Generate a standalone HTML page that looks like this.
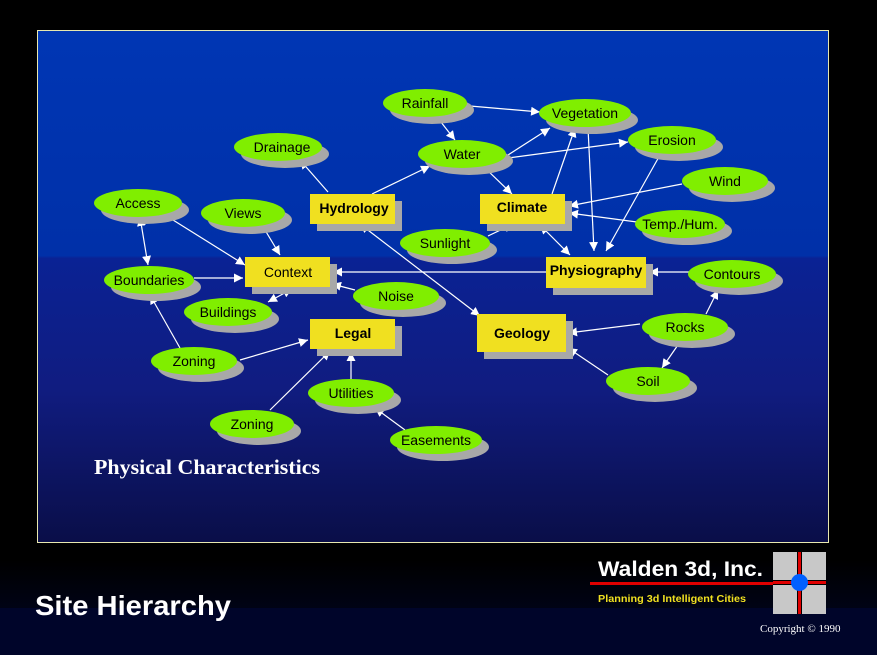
<!DOCTYPE html>
<html><head><meta charset="utf-8"><style>
html,body{margin:0;padding:0;background:#000;width:877px;height:655px;overflow:hidden}
svg{display:block}
</style></head><body>
<svg width="877" height="655" viewBox="0 0 877 655" xmlns="http://www.w3.org/2000/svg">
<defs>
<linearGradient id="bg" x1="0" y1="0" x2="0" y2="1">
<stop offset="0" stop-color="#0036b4"/>
<stop offset="0.44" stop-color="#0030a8"/>
<stop offset="0.445" stop-color="#0a2294"/>
<stop offset="0.7" stop-color="#101c80"/>
<stop offset="1" stop-color="#0a0e48"/>
</linearGradient>
<linearGradient id="bot" x1="0" y1="0" x2="0" y2="1">
<stop offset="0" stop-color="#000"/>
<stop offset="1" stop-color="#00062a"/>
</linearGradient>
<marker id="ah" viewBox="0 0 10 10" refX="10" refY="5" markerWidth="9" markerHeight="9" markerUnits="userSpaceOnUse" orient="auto-start-reverse">
<path d="M0,0 L10,5 L0,10 z" fill="#fff"/>
</marker>
</defs>
<rect x="0" y="0" width="877" height="655" fill="#000"/>
<rect x="0" y="560" width="877" height="95" fill="url(#bot)"/>
<rect x="0" y="608" width="877" height="47" fill="#00052a"/>
<rect x="37.5" y="30.5" width="791" height="512" fill="url(#bg)" stroke="#e8e8b0" stroke-width="1"/>

<g stroke="#fff" stroke-width="1.2" fill="none" marker-end="url(#ah)">
<line x1="470" y1="106" x2="540" y2="112"/>
<line x1="437" y1="117" x2="455" y2="140"/>
<line x1="508" y1="155" x2="550" y2="128"/>
<line x1="508" y1="158" x2="628" y2="142"/>
<line x1="485" y1="168" x2="512" y2="194"/>
<line x1="372" y1="194" x2="430" y2="166"/>
<line x1="328" y1="192" x2="300" y2="160"/>
<line x1="552" y1="194" x2="575" y2="128"/>
<line x1="588" y1="128" x2="594" y2="251"/>
<line x1="660" y1="155" x2="606" y2="251"/>
<line x1="682" y1="184" x2="569" y2="206"/>
<line x1="637" y1="222" x2="569" y2="213"/>
<line x1="488" y1="236" x2="513" y2="224"/>
<line x1="540" y1="225" x2="570" y2="255" marker-start="url(#ah)"/>
<line x1="546" y1="272" x2="333" y2="272"/>
<line x1="690" y1="272" x2="649" y2="272"/>
<line x1="360" y1="224" x2="480" y2="316" marker-start="url(#ah)"/>
<line x1="640" y1="324" x2="568" y2="333"/>
<line x1="706" y1="314" x2="718" y2="290"/>
<line x1="680" y1="342" x2="662" y2="368"/>
<line x1="608" y1="375" x2="568" y2="348"/>
<line x1="165" y1="215" x2="245" y2="265"/>
<line x1="140" y1="217" x2="148" y2="265" marker-start="url(#ah)"/>
<line x1="262" y1="225" x2="280" y2="255"/>
<line x1="194" y1="278" x2="243" y2="278"/>
<line x1="268" y1="302" x2="292" y2="289" marker-start="url(#ah)"/>
<line x1="355" y1="290" x2="332" y2="284"/>
<line x1="180" y1="348" x2="150" y2="295"/>
<line x1="240" y1="360" x2="308" y2="340"/>
<line x1="270" y1="410" x2="330" y2="351"/>
<line x1="351" y1="380" x2="351" y2="352"/>
<line x1="405" y1="430" x2="375" y2="408"/>
</g>

<g font-family="Liberation Sans, sans-serif" font-size="14" text-anchor="middle">
<g><ellipse cx="432" cy="110" rx="42" ry="14" fill="#a8a8a8"/><ellipse cx="425" cy="103" rx="42" ry="14" fill="#80ee00"/><text x="425" y="108">Rainfall</text></g>
<g><ellipse cx="592" cy="120" rx="46" ry="14" fill="#a8a8a8"/><ellipse cx="585" cy="113" rx="46" ry="14" fill="#80ee00"/><text x="585" y="118">Vegetation</text></g>
<g><ellipse cx="285" cy="154" rx="44" ry="14" fill="#a8a8a8"/><ellipse cx="278" cy="147" rx="44" ry="14" fill="#80ee00"/><text x="282" y="152">Drainage</text></g>
<g><ellipse cx="469" cy="161" rx="44" ry="14" fill="#a8a8a8"/><ellipse cx="462" cy="154" rx="44" ry="14" fill="#80ee00"/><text x="462" y="159">Water</text></g>
<g><ellipse cx="679" cy="147" rx="44" ry="14" fill="#a8a8a8"/><ellipse cx="672" cy="140" rx="44" ry="14" fill="#80ee00"/><text x="672" y="145">Erosion</text></g>
<g><ellipse cx="732" cy="188" rx="43" ry="14" fill="#a8a8a8"/><ellipse cx="725" cy="181" rx="43" ry="14" fill="#80ee00"/><text x="725" y="186">Wind</text></g>
<g><ellipse cx="145" cy="210" rx="44" ry="14" fill="#a8a8a8"/><ellipse cx="138" cy="203" rx="44" ry="14" fill="#80ee00"/><text x="138" y="208">Access</text></g>
<g><ellipse cx="250" cy="220" rx="42" ry="14" fill="#a8a8a8"/><ellipse cx="243" cy="213" rx="42" ry="14" fill="#80ee00"/><text x="243" y="218">Views</text></g>
<g><ellipse cx="687" cy="231" rx="45" ry="14" fill="#a8a8a8"/><ellipse cx="680" cy="224" rx="45" ry="14" fill="#80ee00"/><text x="680" y="229">Temp./Hum.</text></g>
<g><ellipse cx="452" cy="250" rx="45" ry="14" fill="#a8a8a8"/><ellipse cx="445" cy="243" rx="45" ry="14" fill="#80ee00"/><text x="445" y="248">Sunlight</text></g>
<g><ellipse cx="156" cy="287" rx="45" ry="14" fill="#a8a8a8"/><ellipse cx="149" cy="280" rx="45" ry="14" fill="#80ee00"/><text x="149" y="285">Boundaries</text></g>
<g><ellipse cx="739" cy="281" rx="44" ry="14" fill="#a8a8a8"/><ellipse cx="732" cy="274" rx="44" ry="14" fill="#80ee00"/><text x="732" y="279">Contours</text></g>
<g><ellipse cx="403" cy="303" rx="43" ry="14" fill="#a8a8a8"/><ellipse cx="396" cy="296" rx="43" ry="14" fill="#80ee00"/><text x="396" y="301">Noise</text></g>
<g><ellipse cx="235" cy="319" rx="44" ry="14" fill="#a8a8a8"/><ellipse cx="228" cy="312" rx="44" ry="14" fill="#80ee00"/><text x="228" y="317">Buildings</text></g>
<g><ellipse cx="692" cy="334" rx="43" ry="14" fill="#a8a8a8"/><ellipse cx="685" cy="327" rx="43" ry="14" fill="#80ee00"/><text x="685" y="332">Rocks</text></g>
<g><ellipse cx="201" cy="368" rx="43" ry="14" fill="#a8a8a8"/><ellipse cx="194" cy="361" rx="43" ry="14" fill="#80ee00"/><text x="194" y="366">Zoning</text></g>
<g><ellipse cx="358" cy="400" rx="43" ry="14" fill="#a8a8a8"/><ellipse cx="351" cy="393" rx="43" ry="14" fill="#80ee00"/><text x="351" y="398">Utilities</text></g>
<g><ellipse cx="655" cy="388" rx="42" ry="14" fill="#a8a8a8"/><ellipse cx="648" cy="381" rx="42" ry="14" fill="#80ee00"/><text x="648" y="386">Soil</text></g>
<g><ellipse cx="259" cy="431" rx="42" ry="14" fill="#a8a8a8"/><ellipse cx="252" cy="424" rx="42" ry="14" fill="#80ee00"/><text x="252" y="429">Zoning</text></g>
<g><ellipse cx="443" cy="447" rx="46" ry="14" fill="#a8a8a8"/><ellipse cx="436" cy="440" rx="46" ry="14" fill="#80ee00"/><text x="436" y="445">Easements</text></g>
</g>

<g font-family="Liberation Sans, sans-serif" font-size="14" text-anchor="middle" font-weight="bold">
<rect x="317" y="201" width="85" height="30" fill="#a8a8a8"/><rect x="310" y="194" width="85" height="30" fill="#f0e020"/><text x="354" y="213">Hydrology</text>
<rect x="487" y="201" width="85" height="30" fill="#a8a8a8"/><rect x="480" y="194" width="85" height="30" fill="#f0e020"/><text x="522" y="212">Climate</text>
<rect x="252" y="264" width="85" height="30" fill="#a8a8a8"/><rect x="245" y="257" width="85" height="30" fill="#f0e020"/><text x="288" y="277" font-weight="normal">Context</text>
<rect x="553" y="264" width="100" height="31" fill="#a8a8a8"/><rect x="546" y="257" width="100" height="31" fill="#f0e020"/><text x="596" y="275">Physiography</text>
<rect x="317" y="326" width="85" height="30" fill="#a8a8a8"/><rect x="310" y="319" width="85" height="30" fill="#f0e020"/><text x="353" y="338">Legal</text>
<rect x="484" y="321" width="89" height="38" fill="#a8a8a8"/><rect x="477" y="314" width="89" height="38" fill="#f0e020"/><text x="522" y="338">Geology</text>
</g>

<text x="94" y="474" font-family="Liberation Serif, serif" font-size="21" font-weight="bold" fill="#fff" textLength="226" lengthAdjust="spacingAndGlyphs">Physical Characteristics</text>
<text x="35" y="615" font-family="Liberation Sans, sans-serif" font-size="28" font-weight="bold" fill="#fff" textLength="196" lengthAdjust="spacingAndGlyphs">Site Hierarchy</text>

<text x="598" y="576" font-family="Liberation Sans, sans-serif" font-size="21" font-weight="bold" fill="#fff" textLength="165" lengthAdjust="spacingAndGlyphs">Walden 3d, Inc.</text>
<rect x="590" y="582" width="236" height="3" fill="#e00000"/>
<text x="598" y="602" font-family="Liberation Sans, sans-serif" font-size="10" font-weight="bold" fill="#f0e020" textLength="148" lengthAdjust="spacingAndGlyphs">Planning 3d Intelligent Cities</text>
<rect x="773" y="552" width="53" height="62" fill="#c8c8c8"/>
<rect x="797" y="552" width="5" height="62" fill="#000"/>
<rect x="773" y="580" width="53" height="5" fill="#000"/>
<rect x="798" y="552" width="3" height="62" fill="#e00000"/>
<rect x="773" y="581" width="53" height="3" fill="#e00000"/>
<circle cx="799.5" cy="582.5" r="8.5" fill="#0060ff"/>
<text x="760" y="632" font-family="Liberation Serif, serif" font-size="11" fill="#fff">Copyright © 1990</text>
</svg>
</body></html>
